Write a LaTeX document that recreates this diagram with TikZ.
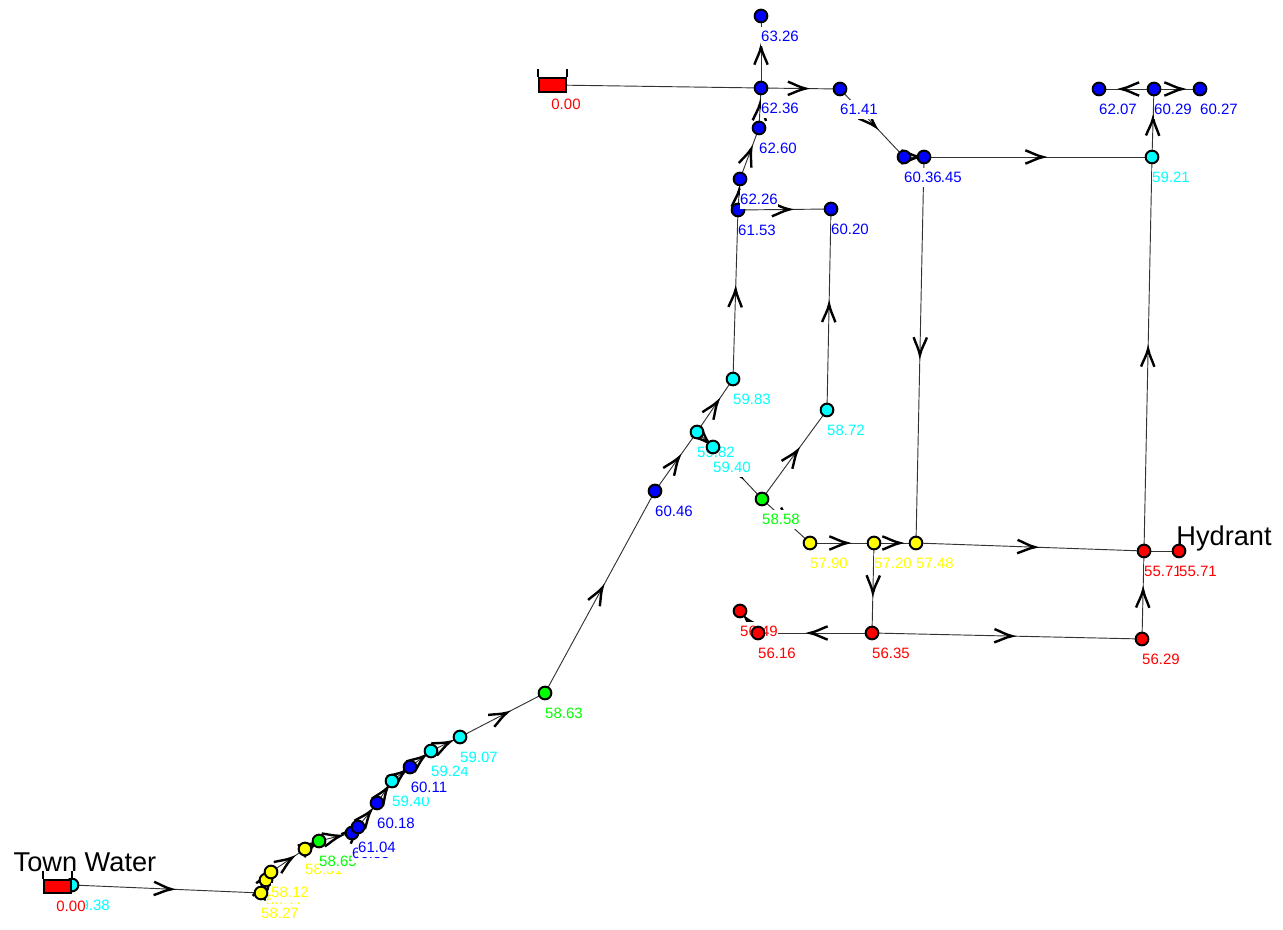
\documentclass[tikz,border=0pt]{standalone}
\usepackage{fontspec}
\setmainfont{Liberation Sans}
\usetikzlibrary{decorations.markings,backgrounds}
\pgfdeclarelayer{edges}
\pgfsetlayers{background,edges,main}
\definecolor{jcyan}{RGB}{0,255,255}
\definecolor{jgreen}{RGB}{0,255,0}
\definecolor{jyellow}{RGB}{255,255,0}
\definecolor{jblue}{RGB}{0,0,255}
\definecolor{jred}{RGB}{255,0,0}
\tikzset{
  x=0.75pt,y=-0.75pt,
  junc/.style={circle,draw=black,line width=1.5pt,minimum size=9.5pt,inner sep=0pt},
  lbl/.style={fill=white,inner xsep=0pt,inner ysep=0pt,minimum height=14.2pt,font=\fontsize{11.25}{13}\selectfont},
  title/.style={font=\fontsize{20.4}{24}\selectfont,text=black,inner sep=0pt},
  tank/.style={rectangle,draw=black,line width=1.7pt,fill=jred,minimum width=20.5pt,minimum height=10pt,inner sep=0pt},
  wall/.style={line width=1.6pt,black},
  pipe/.style={line width=0.7pt,draw=black!80},
  flow/.style={pipe,postaction={decorate},decoration={markings,mark=at position 0.5 with {
    \draw[line width=1.8pt,black,solid] (-9.5pt,5pt) .. controls (-5pt,3.4pt) and (-1pt,1pt) .. (3.8pt,0pt) .. controls (-1pt,-1pt) and (-5pt,-3.4pt) .. (-9.5pt,-5pt);}}}
}
% #1 name, #2 x, #3 y, #4 colour, #5 label
\newcommand{\J}[5]{%
  \node[junc,fill=#4] (#1) at (#2,#3) {};
  \node[lbl,text=#4] (#1l) at ({#2+19},{#3+20.5}) {#5};
}
\begin{document}
\begin{tikzpicture}
\useasboundingbox (0,0) rectangle (1283,930);
% town water
\J{a}{72}{885}{jcyan}{59.38}
\node[tank] (tt) at (57.5,886.5) {};
\node[lbl,text=jred] (ttl) at (71,906.5) {0.00};
\draw[wall] (tt.north west) -- ++(0,-8) coordinate (ttw);
\draw[wall] (tt.north east) -- ++(0,-8) coordinate (tte);
\node[title] (tw) at (85,862) {Town Water};
% lower chain
\J{b3}{266}{880}{jyellow}{58.17}
\J{b1}{261}{893}{jyellow}{58.27}
\J{b5}{271}{872}{jyellow}{58.12}
\J{c}{305}{849}{jyellow}{58.31}
\J{d}{319}{841}{jgreen}{58.65}
\J{e}{352}{833}{jblue}{60.85}
\J{f}{358}{827}{jblue}{61.04}
\J{g}{377}{803}{jblue}{60.18}
\J{h}{392}{781}{jcyan}{59.40}
\J{i}{410}{767}{jblue}{60.11}
\J{j}{431}{751}{jcyan}{59.24}
\J{k}{460}{737}{jcyan}{59.07}
\J{m}{545}{693}{jgreen}{58.63}
\J{n}{655}{491}{jblue}{60.46}
\J{o}{697}{432}{jcyan}{59.82}
\J{p}{713}{447}{jcyan}{59.40}
\J{q}{733}{379}{jcyan}{59.83}
\J{r}{762}{499}{jgreen}{58.58}
\J{s}{827}{410}{jcyan}{58.72}
\J{t}{831}{209}{jblue}{60.20}
\J{u}{738}{210}{jblue}{61.53}
\J{v}{740}{179}{jblue}{62.26}
\J{w}{759}{128}{jblue}{62.60}
\J{x}{761}{88}{jblue}{62.36}
\J{y}{761}{16}{jblue}{63.26}
\J{z}{840}{89}{jblue}{61.41}
\J{aa2}{924}{157}{jblue}{60.45}
\J{aa1}{904}{157}{jblue}{60.36}
\J{ab}{1152}{157}{jcyan}{59.21}
\J{ac}{1154}{89}{jblue}{60.29}
\J{ad}{1099}{89}{jblue}{62.07}
\J{ae}{1200}{89}{jblue}{60.27}
\J{af}{810}{543}{jyellow}{57.90}
\J{ag}{874}{543}{jyellow}{57.20}
\J{ah}{916}{543}{jyellow}{57.48}
\J{ai}{1144}{551}{jred}{55.71}
\J{aj}{1179}{551}{jred}{55.71}
\J{ak}{1142}{639}{jred}{56.29}
\J{al}{872}{633}{jred}{56.35}
\J{am}{740}{611}{jred}{56.49}
\J{an}{758}{633}{jred}{56.16}
\node[title] (hy) at (1224,538) {Hydrant};
% upper tank
\node[tank] (ut) at (552.5,85) {};
\node[lbl,text=jred] (utl) at (566,104.5) {0.00};
\draw[wall] (ut.north west) -- ++(0,-8) coordinate (utw);
\draw[wall] (ut.north east) -- ++(0,-8) coordinate (ute);
% connectors
\begin{pgfonlayer}{edges}
\draw[pipe] (tt.center) -- (a.center);
\draw[pipe] (ut.center) -- (x.center);
\draw[pipe] (ai.center) -- (aj.center);
\foreach \p/\q in {a/b1,b1/b3,b3/b5,b5/c,c/d,d/e,e/f,f/g,g/h,h/i,i/j,j/k,k/m,m/n,n/o,o/q,o/p,p/r,r/s,r/af,s/t,q/u,u/t,u/v,v/w,w/x,x/y,x/z,z/aa1,aa1/aa2,aa2/ab,ab/ac,ac/ad,ac/ae,ai/ab,aa2/ah,af/ag,ag/ah,ah/ai,ag/al,al/an,al/ak,ak/ai,an/am}
  \draw[flow] (\p.center) -- (\q.center);
\end{pgfonlayer}
\end{tikzpicture}
\end{document}
